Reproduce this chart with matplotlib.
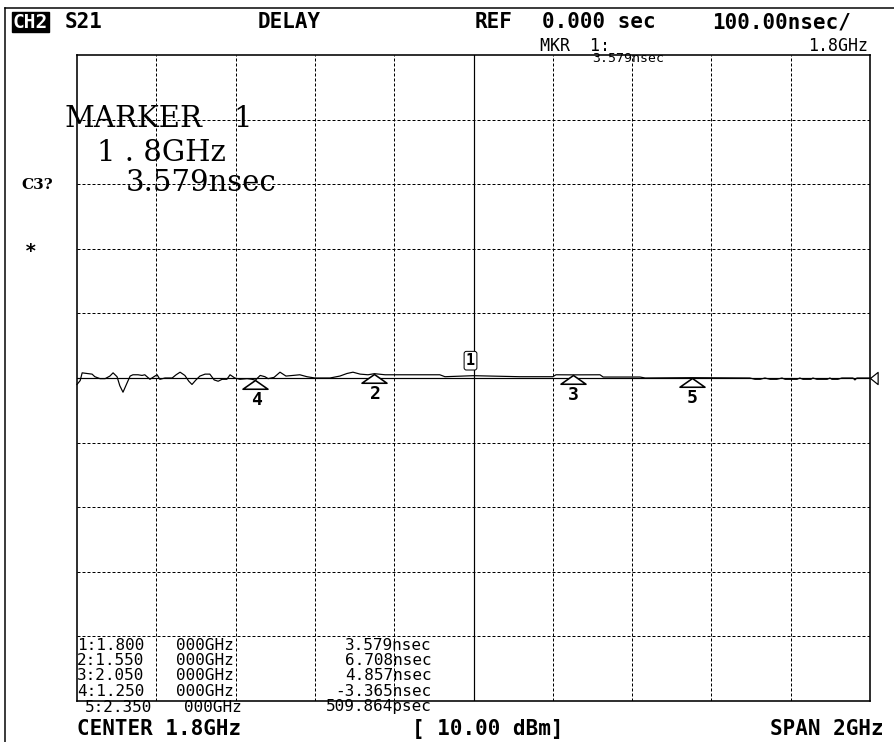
import numpy as np
import matplotlib
matplotlib.use("Agg")
import matplotlib.pyplot as plt
from matplotlib.path import Path

# S21 group delay trace (GHz, nsec)
freq_ghz = [0.800, 0.808, 0.813, 0.825, 0.838, 0.845, 0.858, 0.871, 0.883, 0.891,
            0.901, 0.908, 0.916, 0.926, 0.934, 0.941, 0.954, 0.964, 0.971, 0.984,
            0.994, 1.002, 1.009, 1.022, 1.040, 1.050, 1.060, 1.072, 1.082, 1.090,
            1.100, 1.110, 1.123, 1.135, 1.146, 1.156, 1.166, 1.178, 1.186, 1.198,
            1.211, 1.229, 1.241, 1.250, 1.262, 1.274, 1.282, 1.297, 1.312, 1.327,
            1.345, 1.362, 1.380, 1.400, 1.438, 1.463, 1.481, 1.496, 1.514, 1.534,
            1.550, 1.577, 1.665, 1.715, 1.728, 1.800, 1.917, 2.000, 2.008, 2.050,
            2.119, 2.127, 2.220, 2.233, 2.350, 2.497, 2.510, 2.523, 2.535, 2.548,
            2.565, 2.578, 2.586, 2.616, 2.623, 2.631, 2.651, 2.656, 2.666, 2.692,
            2.699, 2.704, 2.719, 2.729, 2.757, 2.762, 2.767, 2.800]
delay_ns = [-10, -4, 8, 7, 6, 2, -1, -1, 3, 8,
            2, -12, -22, -8, 3, 5, 5, 4, 5, -2,
            2, 5, -2, 0, 0, 5, 9, 4, -5, -10,
            -3, 3, 6, 6, -3, -5, -2, -2, 5, 0,
            -2, -1, -2, -3.365, 4, 2, -1, 1, 9, 3,
            4, 5, 2, 0, 0, 3, 7, 9, 6, 5,
            6.708, 5, 5, 5, 2, 3.579, 2, 2, 5, 4.857,
            5, 1.5, 1.5, 0, 0.51, 0, -2, -2, 0, -2,
            -2, 0, -2, -2, 0, -2, -2, 0, -2, -2,
            0, -2, -2, 0, 0, -3, 0, 0]

marker_ids = [1, 2, 3, 4, 5]
marker_freq = [1.80, 1.55, 2.05, 1.25, 2.35]
marker_delay = [3.579, 6.708, 4.857, -3.365, 0.510]
marker_freq_text = ["1:1.800", "2:1.550", "3:2.050", "4:1.250", "5:2.350"]
marker_value_text = ["3.579nsec", "6.708nsec", "4.857nsec", "-3.365nsec", "509.864psec"]

center_ghz = 1.8
span_ghz = 2.0
scale_ns = 100.0
ref_ns = 0.0
n_div = 10

W, H = 894, 742
PX = 0.72  # one pixel in points at dpi 100

fig = plt.figure(figsize=(W / 100, H / 100), dpi=100)
fig.patch.set_facecolor("white")

# graticule area in pixels
gl, gr, gt, gb = 77, 870, 55, 701
ax = fig.add_axes([gl / W, (H - gb) / H, (gr - gl) / W, (gb - gt) / H])
f0 = center_ghz - span_ghz / 2
f1 = center_ghz + span_ghz / 2
ymin = ref_ns - scale_ns * n_div / 2
ymax = ref_ns + scale_ns * n_div / 2
ax.set_xlim(f0, f1)
ax.set_ylim(ymin, ymax)
ax.set_xticks([])
ax.set_yticks([])
for s in ax.spines.values():
    s.set_linewidth(1.6 * PX)

xs = np.linspace(f0, f1, n_div + 1)[1:-1]
ys = np.linspace(ymin, ymax, n_div + 1)[1:-1]
for x in xs:
    if abs(x - center_ghz) < 1e-9:
        ax.axvline(x, color="black", lw=1.2 * PX)
    else:
        ax.axvline(x, color="black", lw=PX, ls=(0, (3, 2)))
for y in ys:
    if abs(y - ref_ns) < 1e-9:
        ax.axhline(y, color="black", lw=1.2 * PX)
    else:
        ax.axhline(y, color="black", lw=PX, ls=(0, (3, 2)))

ax.plot(freq_ghz, delay_ns, color="black", lw=1.2 * PX, clip_on=False)

# marker triangles (apex on the trace) with numbers below
tri = Path([(0, 0), (-1, -0.7), (1, -0.7), (0, 0)],
           [Path.MOVETO, Path.LINETO, Path.LINETO, Path.CLOSEPOLY])
for mid, mf, md in zip(marker_ids, marker_freq, marker_delay):
    if mid == 1:
        ax.annotate("1", xy=(mf, md), xytext=(-3, 15), textcoords="offset pixels",
                    ha="center", va="center", fontsize=11, family="DejaVu Sans Mono",
                    fontweight="bold",
                    bbox=dict(boxstyle="round,pad=0.12,rounding_size=0.15",
                              fc="white", ec="black", lw=PX))
        continue
    ax.plot([mf], [md], marker=tri, ms=18, mfc="white", mec="black", mew=1.6 * PX,
            clip_on=False)
    ax.annotate(str(mid), xy=(mf, md), xytext=(1, -20), textcoords="offset pixels",
                ha="center", va="center", fontsize=13, family="DejaVu Sans Mono",
                fontweight="bold")

# reference position indicator at right edge
ref_tri = Path([(0, 0), (1, 0.8), (1, -0.8), (0, 0)],
               [Path.MOVETO, Path.LINETO, Path.LINETO, Path.CLOSEPOLY])
ax.plot([f1], [ref_ns], marker=ref_tri, ms=11, mfc="white", mec="black",
        mew=1.2 * PX, clip_on=False)

# overlay for screen annotations, pixel coordinates
ov = fig.add_axes([0, 0, 1, 1], facecolor="none")
ov.set_xlim(0, W)
ov.set_ylim(H, 0)
ov.axis("off")
ov.plot([5, W], [8, 8], color="black", lw=1.5 * PX)
ov.plot([5, 5], [8, H], color="black", lw=1.5 * PX)

hdr = dict(family="DejaVu Sans Mono", fontweight="bold", fontsize=15, va="center", ha="left")
ov.text(13, 22, "CH2", color="white",
        bbox=dict(boxstyle="square,pad=0.04", fc="black", ec="black"),
        **{**hdr, "fontsize": 14})
ov.text(65, 22, "S21", **hdr)
ov.text(258, 22, "DELAY", **hdr)
ov.text(475, 22, "REF", **hdr)
ov.text(542, 22, "0.000 sec", **hdr)
ov.text(712, 22, "100.00nsec/", **hdr)

thin = dict(family="DejaVu Sans Mono", fontsize=12, va="center")
ov.text(540, 46, "MKR  1:", ha="left", **thin)
ov.text(868, 46, "1.8GHz", ha="right", **thin)
ov.text(592, 59, "3.579nsec", ha="left", family="DejaVu Sans Mono", fontsize=9.5,
        va="center")

big = dict(family="DejaVu Serif", fontsize=21, va="center", ha="left")
ov.text(65, 119, "MARKER", **big)
ov.text(233, 119, "1", **big)
ov.text(97, 153, "1 . 8GHz", **big)
ov.text(126, 183, "3.579nsec", **big)

ov.text(21, 185, "C3?", family="DejaVu Serif", fontweight="bold", fontsize=11,
        va="center", ha="left")
ov.text(31, 251, "*", family="DejaVu Sans Mono", fontweight="bold", fontsize=14,
        va="center", ha="center")

# marker table
row_y = [645, 660.5, 676, 691.5, 707]
tbl = dict(family="DejaVu Sans Mono", fontsize=11.5, va="center")
for i, (ft, vt) in enumerate(zip(marker_freq_text, marker_value_text)):
    dx = 8 if i == 4 else 0
    ov.text(77 + dx, row_y[i], ft, ha="left", **tbl)
    ov.text(176 + dx, row_y[i], "000GHz", ha="left", **tbl)
    ov.text(432, row_y[i], vt, ha="right", **tbl)

ov.text(77, 729, "CENTER 1.8GHz", **hdr)
ov.text(412, 729, "[ 10.00 dBm]", **hdr)
ov.text(884, 729, "SPAN 2GHz", **{**hdr, "ha": "right"})

fig.savefig("out.png", dpi=100, facecolor="white")
